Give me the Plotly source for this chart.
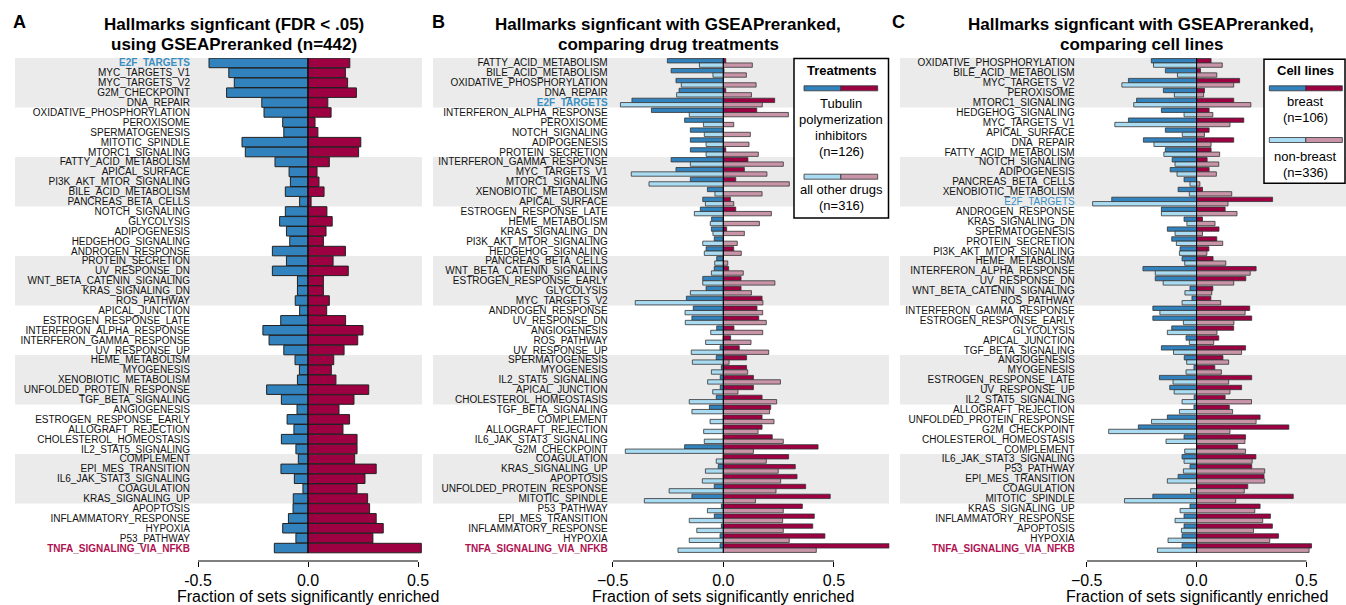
import plotly.graph_objects as go

W, H = 1346, 605
FONT = "Liberation Sans, Arial, sans-serif"

# ---------------- DATA ----------------
A_labels = ["E2F_TARGETS", "MYC_TARGETS_V1", "MYC_TARGETS_V2", "G2M_CHECKPOINT", "DNA_REPAIR",
            "OXIDATIVE_PHOSPHORYLATION", "PEROXISOME", "SPERMATOGENESIS", "MITOTIC_SPINDLE", "MTORC1_SIGNALING",
            "FATTY_ACID_METABOLISM", "APICAL_SURFACE", "PI3K_AKT_MTOR_SIGNALING", "BILE_ACID_METABOLISM", "PANCREAS_BETA_CELLS",
            "NOTCH_SIGNALING", "GLYCOLYSIS", "ADIPOGENESIS", "HEDGEHOG_SIGNALING", "ANDROGEN_RESPONSE",
            "PROTEIN_SECRETION", "UV_RESPONSE_DN", "WNT_BETA_CATENIN_SIGNALING", "KRAS_SIGNALING_DN", "ROS_PATHWAY",
            "APICAL_JUNCTION", "ESTROGEN_RESPONSE_LATE", "INTERFERON_ALPHA_RESPONSE", "INTERFERON_GAMMA_RESPONSE", "UV_RESPONSE_UP",
            "HEME_METABOLISM", "MYOGENESIS", "XENOBIOTIC_METABOLISM", "UNFOLDED_PROTEIN_RESPONSE", "TGF_BETA_SIGNALING",
            "ANGIOGENESIS", "ESTROGEN_RESPONSE_EARLY", "ALLOGRAFT_REJECTION", "CHOLESTEROL_HOMEOSTASIS", "IL2_STAT5_SIGNALING",
            "COMPLEMENT", "EPI_MES_TRANSITION", "IL6_JAK_STAT3_SIGNALING", "COAGULATION", "KRAS_SIGNALING_UP",
            "APOPTOSIS", "INFLAMMATORY_RESPONSE", "HYPOXIA", "P53_PATHWAY", "TNFA_SIGNALING_VIA_NFKB"]
A_neg = [-0.45, -0.36, -0.335, -0.37, -0.21, -0.20, -0.115, -0.11, -0.30, -0.285,
         -0.15, -0.086, -0.08, -0.103, -0.038, -0.103, -0.129, -0.098, -0.083, -0.162,
         -0.098, -0.162, -0.048, -0.048, -0.058, -0.038, -0.124, -0.205, -0.177, -0.11,
         -0.059, -0.039, -0.048, -0.188, -0.121, -0.05, -0.095, -0.064, -0.121, -0.055,
         -0.044, -0.123, -0.062, -0.023, -0.067, -0.068, -0.089, -0.115, -0.055, -0.153]
A_pos = [0.19, 0.17, 0.18, 0.22, 0.09, 0.105, 0.032, 0.045, 0.24, 0.23,
         0.097, 0.041, 0.05, 0.073, 0.014, 0.086, 0.11, 0.082, 0.07, 0.17,
         0.114, 0.183, 0.07, 0.07, 0.097, 0.085, 0.171, 0.25, 0.226, 0.164,
         0.117, 0.106, 0.127, 0.276, 0.209, 0.141, 0.189, 0.159, 0.223, 0.223,
         0.212, 0.31, 0.259, 0.223, 0.271, 0.28, 0.31, 0.342, 0.295, 0.515]

B_labels = ["FATTY_ACID_METABOLISM", "BILE_ACID_METABOLISM", "OXIDATIVE_PHOSPHORYLATION", "DNA_REPAIR", "E2F_TARGETS",
            "INTERFERON_ALPHA_RESPONSE", "PEROXISOME", "NOTCH_SIGNALING", "ADIPOGENESIS", "PROTEIN_SECRETION",
            "INTERFERON_GAMMA_RESPONSE", "MYC_TARGETS_V1", "MTORC1_SIGNALING", "XENOBIOTIC_METABOLISM", "APICAL_SURFACE",
            "ESTROGEN_RESPONSE_LATE", "HEME_METABOLISM", "KRAS_SIGNALING_DN", "PI3K_AKT_MTOR_SIGNALING", "HEDGEHOG_SIGNALING",
            "PANCREAS_BETA_CELLS", "WNT_BETA_CATENIN_SIGNALING", "ESTROGEN_RESPONSE_EARLY", "GLYCOLYSIS", "MYC_TARGETS_V2",
            "ANDROGEN_RESPONSE", "UV_RESPONSE_DN", "ANGIOGENESIS", "ROS_PATHWAY", "UV_RESPONSE_UP",
            "SPERMATOGENESIS", "MYOGENESIS", "IL2_STAT5_SIGNALING", "APICAL_JUNCTION", "CHOLESTEROL_HOMEOSTASIS",
            "TGF_BETA_SIGNALING", "COMPLEMENT", "ALLOGRAFT_REJECTION", "IL6_JAK_STAT3_SIGNALING", "G2M_CHECKPOINT",
            "COAGULATION", "KRAS_SIGNALING_UP", "APOPTOSIS", "UNFOLDED_PROTEIN_RESPONSE", "MITOTIC_SPINDLE",
            "P53_PATHWAY", "EPI_MES_TRANSITION", "INFLAMMATORY_RESPONSE", "HYPOXIA", "TNFA_SIGNALING_VIA_NFKB"]
B_tub_neg = [-0.253, -0.236, -0.214, -0.2, -0.413, -0.325, -0.175, -0.149, -0.149, -0.149,
             -0.236, -0.214, -0.149, -0.072, -0.093, -0.104, -0.053, -0.054, -0.041, -0.078,
             -0.03, -0.041, -0.093, -0.078, -0.167, -0.136, -0.142, -0.03, 0, -0.015,
             -0.032, -0.009, -0.014, -0.014, -0.032, -0.063, 0, 0, 0, -0.175,
             0, -0.023, 0, -0.041, -0.142, -0.009, -0.041, -0.009, -0.015, -0.015]
B_tub_pos = [0.011, 0.003, 0, 0.011, 0.232, 0.151, 0, 0, 0, 0.011,
             0.111, 0.095, 0.056, 0, 0.032, 0.056, 0, 0.015, 0, 0.047,
             0, 0.024, 0.08, 0.08, 0.175, 0.152, 0.16, 0.048, 0.033, 0.072,
             0.105, 0.105, 0.136, 0.136, 0.175, 0.214, 0.175, 0.175, 0.221, 0.428,
             0.295, 0.325, 0.333, 0.372, 0.483, 0.357, 0.411, 0.404, 0.459, 0.75]
B_oth_neg = [-0.108, -0.047, -0.19, -0.211, -0.465, -0.154, -0.09, -0.086, -0.078, -0.078,
             -0.149, -0.416, -0.336, -0.038, -0.081, -0.131, -0.059, -0.047, -0.093, -0.086,
             -0.039, -0.054, -0.093, -0.149, -0.398, -0.173, -0.172, -0.057, -0.08, -0.145,
             -0.14, -0.054, -0.071, -0.048, -0.154, -0.142, -0.06, -0.089, -0.086, -0.443,
             -0.032, -0.081, -0.095, -0.245, -0.357, -0.072, -0.154, -0.12, -0.154, -0.205]
B_oth_pos = [0.131, 0.104, 0.148, 0.127, 0.176, 0.294, 0.047, 0.122, 0.116, 0.158,
             0.271, 0.197, 0.298, 0.175, 0.047, 0.217, 0.163, 0.095, 0.063, 0.081,
             0.02, 0.09, 0.233, 0.127, 0.179, 0.178, 0.194, 0.178, 0.125, 0.205,
             0.026, 0.11, 0.258, 0.066, 0.241, 0.209, 0.229, 0.157, 0.271, 0.136,
             0.194, 0.248, 0.259, 0.238, 0.145, 0.271, 0.268, 0.271, 0.298, 0.42]

C_labels = ["OXIDATIVE_PHOSPHORYLATION", "BILE_ACID_METABOLISM", "MYC_TARGETS_V2", "PEROXISOME", "MTORC1_SIGNALING",
            "HEDGEHOG_SIGNALING", "MYC_TARGETS_V1", "APICAL_SURFACE", "DNA_REPAIR", "FATTY_ACID_METABOLISM",
            "NOTCH_SIGNALING", "ADIPOGENESIS", "PANCREAS_BETA_CELLS", "XENOBIOTIC_METABOLISM", "E2F_TARGETS",
            "ANDROGEN_RESPONSE", "KRAS_SIGNALING_DN", "SPERMATOGENESIS", "PROTEIN_SECRETION", "PI3K_AKT_MTOR_SIGNALING",
            "HEME_METABOLISM", "INTERFERON_ALPHA_RESPONSE", "UV_RESPONSE_DN", "WNT_BETA_CATENIN_SIGNALING", "ROS_PATHWAY",
            "INTERFERON_GAMMA_RESPONSE", "ESTROGEN_RESPONSE_EARLY", "GLYCOLYSIS", "APICAL_JUNCTION", "TGF_BETA_SIGNALING",
            "ANGIOGENESIS", "MYOGENESIS", "ESTROGEN_RESPONSE_LATE", "UV_RESPONSE_UP", "IL2_STAT5_SIGNALING",
            "ALLOGRAFT_REJECTION", "UNFOLDED_PROTEIN_RESPONSE", "G2M_CHECKPOINT", "CHOLESTEROL_HOMEOSTASIS", "COMPLEMENT",
            "IL6_JAK_STAT3_SIGNALING", "P53_PATHWAY", "EPI_MES_TRANSITION", "COAGULATION", "MITOTIC_SPINDLE",
            "KRAS_SIGNALING_UP", "INFLAMMATORY_RESPONSE", "APOPTOSIS", "HYPOXIA", "TNFA_SIGNALING_VIA_NFKB"]
C_br_neg = [-0.206, -0.142, -0.31, -0.151, -0.273, -0.16, -0.31, -0.142, -0.242, -0.142,
            -0.111, -0.12, -0.057, -0.084, -0.386, -0.16, -0.057, -0.133, -0.113, -0.075,
            -0.066, -0.244, -0.188, -0.03, -0.021, -0.199, -0.199, -0.113, -0.048, -0.16,
            -0.056, -0.012, -0.169, -0.122, -0.011, -0.012, -0.133, -0.265, -0.057, 0,
            -0.066, -0.03, -0.084, 0, -0.199, -0.03, -0.057, -0.057, -0.066, -0.066]
C_br_pos = [0.066, 0.018, 0.196, 0.036, 0.169, 0.057, 0.215, 0.057, 0.169, 0.066,
            0.048, 0.057, 0, 0.027, 0.346, 0.13, 0.027, 0.102, 0.092, 0.056,
            0.075, 0.271, 0.224, 0.074, 0.065, 0.242, 0.251, 0.169, 0.101, 0.223,
            0.12, 0.083, 0.251, 0.205, 0.13, 0.149, 0.289, 0.42, 0.223, 0.187,
            0.27, 0.251, 0.307, 0.233, 0.44, 0.289, 0.336, 0.345, 0.373, 0.523]
C_nb_neg = [-0.196, -0.087, -0.34, -0.101, -0.286, -0.057, -0.372, -0.065, -0.194, -0.149,
            -0.098, -0.089, -0.03, -0.033, -0.473, -0.16, -0.044, -0.098, -0.092, -0.078,
            -0.054, -0.188, -0.152, -0.053, -0.066, -0.167, -0.06, -0.133, -0.033, -0.105,
            -0.045, -0.048, -0.107, -0.102, -0.066, -0.078, -0.205, -0.4, -0.139, -0.054,
            -0.057, -0.06, -0.133, -0.027, -0.328, -0.075, -0.098, -0.069, -0.13, -0.178]
C_nb_pos = [0.117, 0.092, 0.169, 0.032, 0.247, 0.074, 0.152, 0.036, 0.066, 0.105,
            0.101, 0.09, 0.015, 0.16, 0.143, 0.184, 0.084, 0.027, 0.119, 0.047,
            0.133, 0.244, 0.169, 0.069, 0.11, 0.221, 0.17, 0.093, 0.078, 0.205,
            0.146, 0.113, 0.146, 0.152, 0.25, 0.164, 0.271, 0.152, 0.22, 0.223,
            0.253, 0.31, 0.31, 0.217, 0.178, 0.265, 0.301, 0.259, 0.333, 0.512]

x_ticks = [-0.5, 0.0, 0.5]

# ---------------- STYLE ----------------
DB, DR = "#3182bd", "#9e0142"
LB, LR = "#a9dcf2", "#c994a8"
E2F_COL, TNF_COL = "#3a8fc2", "#b0124f"
BAND = "#ebebeb"

def fx(px): return px / W
def fy(py): return 1 - py / H

ROW_TOP, AX_Y = 58, 561
PITCH = 9.9
y_range = [49.5 + (AX_Y - ROW_TOP - 50 * PITCH) / PITCH, -0.5]

fig = go.Figure()

def ticktext(labels, bold_e2f=True):
    out = []
    for l in labels:
        if l == "E2F_TARGETS":
            t = f'<span style="color:{E2F_COL}">{l}</span>'
            out.append(f"<b>{t}</b>" if bold_e2f else t)
        elif l == "TNFA_SIGNALING_VIA_NFKB":
            out.append(f'<b><span style="color:{TNF_COL}">{l}</span></b>')
        else:
            out.append(l)
    return out

def bar(x, y, color, xa, ya, width, offset, lc="#222222", lw=1.0):
    fig.add_trace(go.Bar(x=x, y=y, orientation="h", marker=dict(color=color, line=dict(color=lc, width=lw)),
                         width=width, offset=offset, xaxis=xa, yaxis=ya, showlegend=False, hoverinfo="x+y"))

# Panel A
bar(A_neg, A_labels, DB, "x", "y", 0.96, -0.48)
bar(A_pos, A_labels, DR, "x", "y", 0.96, -0.48)
# Panel B
bar(B_tub_neg, B_labels, DB, "x2", "y2", 0.44, -0.44, "#333333", 0.8)
bar(B_tub_pos, B_labels, DR, "x2", "y2", 0.44, -0.44, "#333333", 0.8)
bar(B_oth_neg, B_labels, LB, "x2", "y2", 0.44, 0.0, "#333333", 0.8)
bar(B_oth_pos, B_labels, LR, "x2", "y2", 0.44, 0.0, "#333333", 0.8)
# Panel C
bar(C_br_neg, C_labels, DB, "x3", "y3", 0.44, -0.44, "#333333", 0.8)
bar(C_br_pos, C_labels, DR, "x3", "y3", 0.44, -0.44, "#333333", 0.8)
bar(C_nb_neg, C_labels, LB, "x3", "y3", 0.44, 0.0, "#333333", 0.8)
bar(C_nb_pos, C_labels, LR, "x3", "y3", 0.44, 0.0, "#333333", 0.8)

panels = [
    dict(x="x", y="y", dom=(198, 424.6), rng=[-0.5, 0.53], labels=A_labels, band=(15, 422), standoff=7,
         ticktxt=["-0.5", "0.0", "0.5"], e2fbold=True),
    dict(x="x2", y="y2", dom=(612.7, 889.3), rng=[-0.5, 0.75], labels=B_labels, band=(433, 889), standoff=4,
         ticktxt=["\u22120.5", "0.0", "0.5"], e2fbold=True),
    dict(x="x3", y="y3", dom=(1086.7, 1346), rng=[-0.5, 0.68], labels=C_labels, band=(900, 1346), standoff=11,
         ticktxt=["\u22120.5", "0.0", "0.5"], e2fbold=False),
]

layout = dict(width=W, height=H, margin=dict(l=0, r=0, t=0, b=0, autoexpand=False), barmode="overlay",
              plot_bgcolor="rgba(0,0,0,0)", paper_bgcolor="white", font=dict(family=FONT, color="black"))
shapes, annotations = [], []
for i, p in enumerate(panels):
    sfx = "" if i == 0 else str(i + 1)
    layout["xaxis" + sfx] = dict(domain=[fx(p["dom"][0]), fx(p["dom"][1])], range=p["rng"], anchor=p["y"],
                                 tickvals=x_ticks, ticktext=p["ticktxt"], ticks="outside", ticklen=5,
                                 tickcolor="black", tickfont=dict(size=16, family=FONT), showgrid=False,
                                 zeroline=False, showline=False, fixedrange=True, automargin=False)
    layout["yaxis" + sfx] = dict(domain=[fy(AX_Y), fy(ROW_TOP)], range=y_range, anchor=p["x"], type="category",
                                 categoryorder="array", categoryarray=p["labels"], tickvals=p["labels"],
                                 ticktext=ticktext(p["labels"], p["e2fbold"]), ticks="", showgrid=False,
                                 zeroline=False, showline=False, tickfont=dict(size=10, family=FONT, color="#111"),
                                 ticklabelstandoff=p["standoff"], fixedrange=True, automargin=False)
    for g in range(0, 50, 10):
        shapes.append(dict(type="rect", xref="paper", yref=p["y"], x0=fx(p["band"][0]), x1=fx(p["band"][1]),
                           y0=g - 0.5, y1=g + 4.5, fillcolor=BAND, line=dict(width=0), layer="below"))
    shapes.append(dict(type="line", xref=p["x"], yref=p["y"], x0=0, x1=0, y0=-0.5, y1=49.5,
                       line=dict(color="black", width=1), layer="above"))
    shapes.append(dict(type="line", xref=p["x"], yref="paper", x0=x_ticks[0], x1=x_ticks[-1],
                       y0=fy(AX_Y), y1=fy(AX_Y), line=dict(color="black", width=1)))
    annotations.append(dict(text="Fraction of sets significantly enriched", xref=p["x"], x=0, yref="paper",
                            y=fy(596), showarrow=False, font=dict(size=16, family=FONT), xanchor="center",
                            yanchor="middle"))

# titles and panel letters
titles = [("A", 19, 234, "Hallmarks signficant (FDR &lt; .05)", "using GSEAPreranked (n=442)"),
          ("B", 438, 668, "Hallmarks signficant with GSEAPreranked,", "comparing drug treatments"),
          ("C", 898, 1141, "Hallmarks signficant with GSEAPreranked,", "comparing cell lines")]
for letter, lx, tx, l1, l2 in titles:
    annotations.append(dict(text=f"<b>{letter}</b>", x=fx(lx), y=fy(22), xref="paper", yref="paper",
                            showarrow=False, font=dict(size=18, family=FONT), xanchor="center", yanchor="middle"))
    annotations.append(dict(text=f"<b>{l1}</b>", x=fx(tx), y=fy(25), xref="paper", yref="paper",
                            showarrow=False, font=dict(size=17, family=FONT), xanchor="center", yanchor="middle"))
    annotations.append(dict(text=f"<b>{l2}</b>", x=fx(tx), y=fy(45), xref="paper", yref="paper",
                            showarrow=False, font=dict(size=17, family=FONT), xanchor="center", yanchor="middle"))

# legends
def legend(box, title, title_y, cx, keys):
    shapes.append(dict(type="rect", xref="paper", yref="paper", x0=fx(box[0]), x1=fx(box[1]),
                       y0=fy(box[3]), y1=fy(box[2]), fillcolor="white", line=dict(color="black", width=1.5),
                       layer="above"))
    annotations.append(dict(text=f"<b>{title}</b>", x=fx(cx), y=fy(title_y), xref="paper", yref="paper",
                            showarrow=False, font=dict(size=13, family=FONT), xanchor="center", yanchor="middle"))
    for (ky, kx0, kx1, c1, c2, lines) in keys:
        mid = (kx0 + kx1) / 2
        for a, b, c in [(kx0, mid, c1), (mid, kx1, c2)]:
            shapes.append(dict(type="rect", xref="paper", yref="paper", x0=fx(a), x1=fx(b), y0=fy(ky + 2.5),
                               y1=fy(ky - 2.5), fillcolor=c, line=dict(color="#333", width=0.8), layer="above"))
        for (t, ty) in lines:
            annotations.append(dict(text=t, x=fx(cx), y=fy(ty), xref="paper", yref="paper", showarrow=False,
                                    font=dict(size=13, family=FONT), xanchor="center", yanchor="middle"))

legend((794, 888.5, 58.5, 218), "Treatments", 70.5, 841,
       [(88.3, 804, 877.7, DB, DR, [("Tubulin", 103.3), ("polymerization", 119), ("inhibitors", 135), ("(n=126)", 151)]),
        (176.7, 804, 877.7, LB, LR, [("all other drugs", 189.3), ("(n=316)", 206)])])
legend((1264, 1345, 59.3, 183.3), "Cell lines", 70.5, 1305,
       [(88.3, 1269.3, 1342.3, DB, DR, [("breast", 101.7), ("(n=106)", 117.7)]),
        (140, 1269.3, 1342.3, LB, LR, [("non-breast", 156.7), ("(n=336)", 172.7)])])

layout["shapes"] = shapes
layout["annotations"] = annotations
fig.update_layout(**layout)
fig.write_html("out.html", config={"displayModeBar": False},
               post_script="document.body.style.margin='0';document.body.style.padding='0';"
                           "document.body.style.overflow='hidden';")
